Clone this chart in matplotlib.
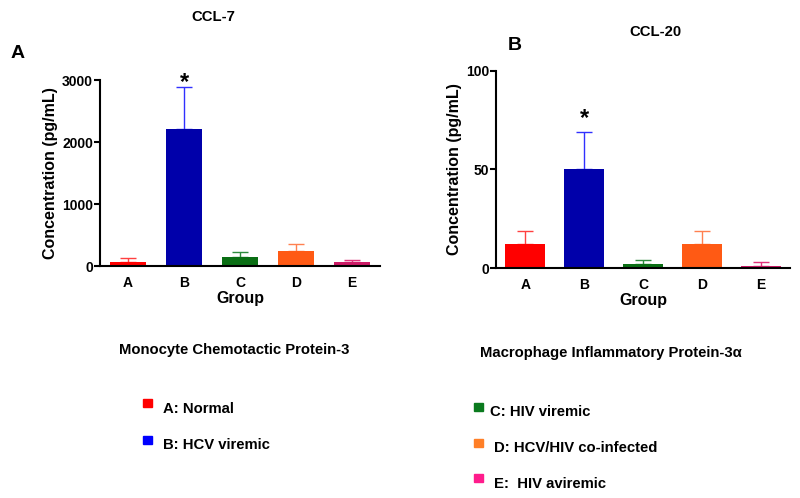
import matplotlib
matplotlib.use("Agg")
import matplotlib.pyplot as plt
from matplotlib.patches import Rectangle

plt.rcParams['font.family'] = ['Liberation Sans', 'DejaVu Sans']
plt.rcParams['font.weight'] = 'bold'

groups = ['A', 'B', 'C', 'D', 'E']
ccl7_mean = [70, 2205, 145, 237, 70]
ccl7_sem = [64, 687, 75, 113, 32]
ccl20_mean = [12.2, 50.3, 2.2, 12.2, 1.2]
ccl20_sem = [6.6, 18.4, 2.0, 6.6, 1.8]

bar_colors = ['#FF0000', '#0000AA', '#0A6E14', '#FF5A14', '#CC1A66']
err_colors = ['#FF4040', '#3030FF', '#2E8B3E', '#FF8050', '#E0307A']
legend_colors = ['#FF0000', '#0000FF', '#0A7A1E', '#FF7F27', '#FF1C8C']
legend_labels = ['A: Normal', 'B: HCV viremic', 'C: HIV viremic',
                 'D: HCV/HIV co-infected', 'E:  HIV aviremic']

W, H = 800, 498
fig = plt.figure(figsize=(8, 4.98), dpi=100)

def fx(px):
    return px / W

def fy(py):
    return 1 - py / H

def panel(rect, means, sems, ylim, yticks, width, star_off):
    ax = fig.add_axes(rect)
    x = list(range(len(groups)))
    ax.bar(x, means, width=width, color=bar_colors, zorder=2)
    for i in x:
        ax.errorbar(i, means[i], yerr=[[0], [sems[i]]], fmt='none',
                    ecolor=err_colors[i], elinewidth=1.0, capsize=6,
                    capthick=1.0, zorder=1)
    ax.set_xlim(-0.5, len(groups) - 0.5)
    ax.set_ylim(*ylim)
    ax.set_yticks(yticks)
    ax.set_xticks(x)
    ax.set_xticklabels(groups, fontsize=10, fontweight='bold')
    ax.tick_params(axis='x', length=0, pad=7)
    ax.tick_params(axis='y', length=4, width=1.5, labelsize=10, pad=1)
    for lab in ax.get_yticklabels():
        lab.set_fontweight('bold')
    for s in ['top', 'right']:
        ax.spines[s].set_visible(False)
    for s in ['left', 'bottom']:
        ax.spines[s].set_linewidth(1.5)
    ax.set_xlabel('Group', fontsize=11.5, fontweight='bold', labelpad=1)
    ax.set_ylabel('Concentration (pg/mL)', fontsize=11.5, fontweight='bold', labelpad=3)
    ax.annotate('*', xy=(1, means[1] + sems[1]), xytext=(0, star_off),
                textcoords='offset points', ha='center', va='center',
                fontsize=17, fontweight='bold', annotation_clip=False)
    return ax

ax1 = panel([fx(100), fy(266), fx(280), (266 - 80) / H], ccl7_mean, ccl7_sem,
            (0, 3000), [0, 1000, 2000, 3000], 0.66, 3)
ax2 = panel([fx(496), fy(268), fx(294), (268 - 70.7) / H], ccl20_mean, ccl20_sem,
            (0, 100), [0, 50, 100], 0.68, 10)

fig.text(fx(213), fy(17), 'CCL-7', fontsize=10.7, fontweight='bold', ha='center', va='center')
fig.text(fx(655), fy(32), 'CCL-20', fontsize=10.7, fontweight='bold', ha='center', va='center')
fig.text(fx(18), fy(54), 'A', fontsize=14, fontweight='bold', ha='center', va='center')
fig.text(fx(515), fy(45), 'B', fontsize=14, fontweight='bold', ha='center', va='center')

fig.text(fx(119), fy(350), 'Monocyte Chemotactic Protein-3', fontsize=10.7,
         fontweight='bold', ha='left', va='center')
fig.text(fx(480), fy(353), 'Macrophage Inflammatory Protein-3\u03b1', fontsize=10.7,
         fontweight='bold', ha='left', va='center')

sq_x = [143, 143, 474, 474, 474]
sq_y = [399, 436, 403, 439, 474]
tx_x = [163, 163, 490, 494, 494]
tx_y = [409, 445, 412, 448, 484]
for i in range(5):
    fig.patches.append(Rectangle((fx(sq_x[i]), fy(sq_y[i] + 8)), fx(9), 8 / H,
                                 transform=fig.transFigure, color=legend_colors[i]))
    fig.text(fx(tx_x[i]), fy(tx_y[i]), legend_labels[i], fontsize=10.7,
             fontweight='bold', ha='left', va='center')

fig.savefig('out.png', dpi=100)
